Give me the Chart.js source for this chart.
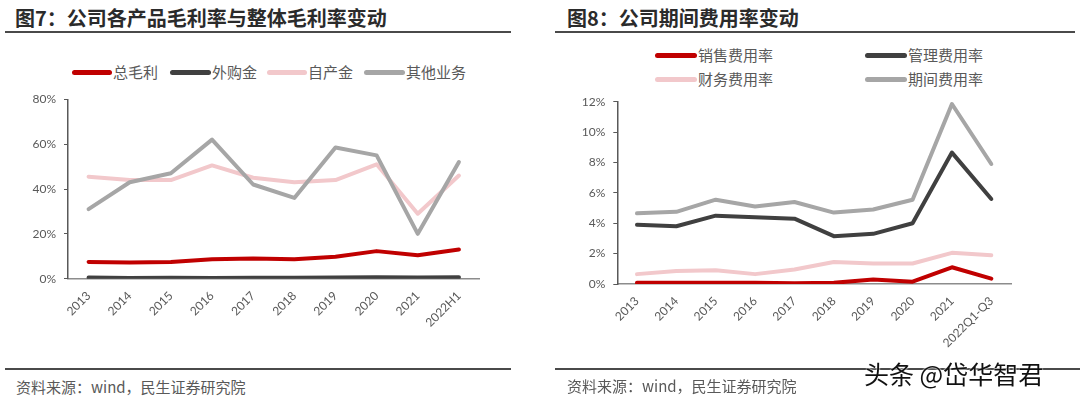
<!DOCTYPE html>
<html><head><meta charset="utf-8">
<script src="https://cdn.jsdelivr.net/npm/chart.js@4/dist/chart.umd.min.js"></script>
<style>
html,body{margin:0;padding:0;background:#fff;}
body{width:1080px;height:399px;position:relative;overflow:hidden;font-family:"Noto Sans CJK SC","Noto Sans",sans-serif;}
.abs{position:absolute;white-space:nowrap;}
.title{font-size:20px;font-weight:bold;color:#2b2b2b;height:30px;line-height:30px;}
.rule{position:absolute;height:2px;background:#4a4a4a;}
.src{font-size:15px;color:#595959;height:22px;line-height:22px;}
.lg{position:absolute;height:5px;border-radius:3px;}
.lt{font-size:15px;color:#595959;height:20px;line-height:20px;}
.wrap{position:absolute;}
</style></head><body>

<div class="abs title" style="left:15px;top:3px;">图7：公司各产品毛利率与整体毛利率变动</div>
<div class="rule" style="left:5px;top:31px;width:506px;"></div>
<div class="abs title" style="left:567px;top:3px;">图8：公司期间费用率变动</div>
<div class="rule" style="left:555px;top:31px;width:520px;"></div>

<!-- left legend -->
<div class="lg" style="left:72px;top:70px;width:40px;background:#C00000;"></div>
<div class="abs lt" style="left:113px;top:62px;">总毛利</div>
<div class="lg" style="left:170px;top:70px;width:41px;background:#404040;"></div>
<div class="abs lt" style="left:212px;top:62px;">外购金</div>
<div class="lg" style="left:267px;top:70px;width:40px;background:#F2C8CB;"></div>
<div class="abs lt" style="left:308px;top:62px;">自产金</div>
<div class="lg" style="left:364px;top:70px;width:41px;background:#A6A6A6;"></div>
<div class="abs lt" style="left:406px;top:62px;">其他业务</div>

<!-- right legend -->
<div class="lg" style="left:655px;top:53px;width:42px;background:#C00000;"></div>
<div class="abs lt" style="left:698px;top:45px;">销售费用率</div>
<div class="lg" style="left:865px;top:53px;width:42px;background:#404040;"></div>
<div class="abs lt" style="left:908px;top:45px;">管理费用率</div>
<div class="lg" style="left:655px;top:77px;width:42px;background:#F2C8CB;"></div>
<div class="abs lt" style="left:698px;top:69px;">财务费用率</div>
<div class="lg" style="left:865px;top:77px;width:42px;background:#A6A6A6;"></div>
<div class="abs lt" style="left:908px;top:69px;">期间费用率</div>

<div class="wrap" style="left:0;top:40px;width:540px;height:320px;"><canvas id="c1"></canvas></div>
<div class="wrap" style="left:540px;top:40px;width:540px;height:320px;"><canvas id="c2"></canvas></div>

<div class="rule" style="left:5px;top:368px;width:506px;"></div>
<div class="rule" style="left:555px;top:368px;width:525px;"></div>
<div class="abs src" style="left:16px;top:376px;">资料来源：wind，民生证券研究院</div>
<div class="abs src" style="left:567px;top:375px;">资料来源：wind，民生证券研究院</div>
<div class="abs" style="left:864px;top:357px;font-size:25px;line-height:32px;color:#111;text-shadow:0 0 2px #fff,0 0 2px #fff;">头条 @岱华智君</div>

<script>
// ---- Chart 1 data ----
const years1 = ["2013","2014","2015","2016","2017","2018","2019","2020","2021","2022H1"];
const totalGM   = [7.5, 7.2, 7.5, 8.7, 9.0, 8.7, 9.8, 12.3, 10.5, 13.0];
const boughtGold= [0.5, 0.3, 0.4, 0.3, 0.4, 0.4, 0.5, 0.7, 0.5, 0.7];
const ownGold   = [45.5, 44.0, 44.0, 50.5, 45.0, 43.0, 44.0, 51.0, 29.0, 46.0];
const otherBiz  = [31.0, 43.0, 47.0, 62.0, 42.0, 36.0, 58.5, 55.0, 20.0, 52.0];
const names1 = ["总毛利","外购金","自产金","其他业务"];
const yTicks1 = {min:0, max:80, step:20};

// ---- Chart 2 data ----
const years2 = ["2013","2014","2015","2016","2017","2018","2019","2020","2021","2022Q1-Q3"];
const salesExp = [0.08, 0.08, 0.08, 0.08, 0.05, 0.08, 0.30, 0.15, 1.10, 0.35];
const mgmtExp  = [3.90, 3.80, 4.50, 4.40, 4.30, 3.15, 3.30, 4.00, 8.65, 5.60];
const finExp   = [0.65, 0.85, 0.90, 0.65, 0.95, 1.45, 1.35, 1.35, 2.05, 1.90];
const periodExp= [4.65, 4.75, 5.55, 5.10, 5.40, 4.70, 4.90, 5.55, 11.85, 7.90];
const names2 = ["销售费用率","管理费用率","财务费用率","期间费用率"];
const yTicks2 = {min:0, max:12, step:2};

const colors = ["#C00000","#404040","#F2C8CB","#A6A6A6"];
const tickFont = {family:"Lato, 'Liberation Sans', sans-serif", size:12};
const tickColor = "#595959";

function ds(names, arrs){
  return arrs.map((d,i)=>({
    label:names[i], data:d, borderColor:colors[i], backgroundColor:colors[i],
    borderWidth:4, pointRadius:0, tension:0, fill:false,
    borderCapStyle:'round', borderJoinStyle:'round', order:arrs.length-1-i
  }));
}

function make(id, labels, datasets, yt, yWidth, xHeight, pad){
  new Chart(document.getElementById(id), {
    type:'line',
    data:{labels, datasets},
    options:{
      responsive:true, maintainAspectRatio:false, animation:false,
      layout:{padding:pad},
      plugins:{legend:{display:false}, tooltip:{enabled:false}},
      scales:{
        x:{
          offset:true,
          grid:{display:false},
          border:{display:true,color:"#8c8c8c",width:1.5},
          ticks:{font:tickFont,color:tickColor,minRotation:45,maxRotation:45,autoSkip:false,padding:2},
          afterFit:(s)=>{s.height=xHeight;}
        },
        y:{
          min:yt.min, max:yt.max,
          grid:{drawOnChartArea:false, drawTicks:true, tickLength:4, color:"#595959"},
          border:{display:true,color:"#595959",width:1.5},
          ticks:{stepSize:yt.step,font:tickFont,color:tickColor,padding:8,callback:(v)=>v+'%'},
          afterFit:(s)=>{s.width=yWidth;}
        }
      }
    }
  });
}

make('c1', years1, ds(names1,[totalGM,boughtGold,ownGold,otherBiz]), yTicks1, 68, 81.3, {top:59.3,left:0,right:60.5,bottom:0});
make('c2', years2, ds(names2,[salesExp,mgmtExp,finExp,periodExp]), yTicks2, 77.3, 76, {top:61.7,left:0,right:69,bottom:0});
</script>
</body></html>
